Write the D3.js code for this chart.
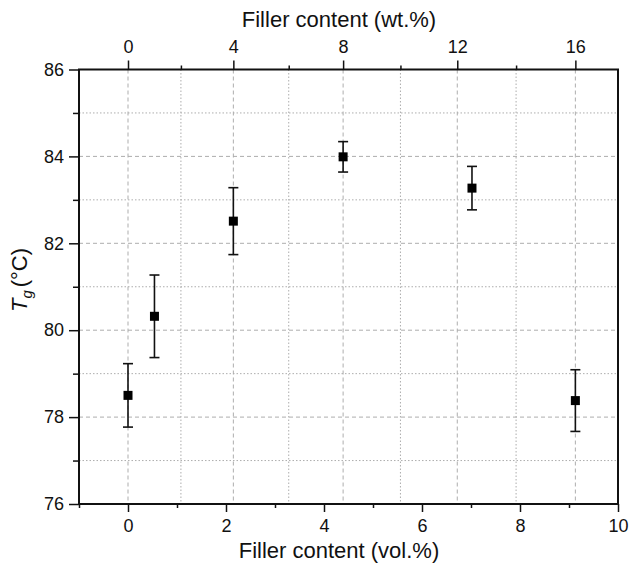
<!DOCTYPE html>
<html>
<head>
<meta charset="utf-8">
<script src="https://cdn.jsdelivr.net/npm/d3@7"></script>
<style>
  html, body { margin: 0; padding: 0; background: #fff; }
  svg { display: block; font-family: "Liberation Sans", Arial, sans-serif; }
  .tick text { font-size: 18px; fill: #111; }
</style>
</head>
<body>
<svg id="chart" width="630" height="565"></svg>
<script>
// Glass transition temperature vs. filler loading
const volContent = [0, 0.54, 2.15, 4.39, 7.02, 9.13];      // vol.%
const tgValues   = [78.50, 80.32, 82.51, 83.99, 83.27, 78.38]; // °C
const tgErrors   = [0.73, 0.95, 0.77, 0.35, 0.50, 0.71];     // ± °C

// Bottom axis (vol.%) ticks
const volMajorTicks = [0, 2, 4, 6, 8, 10];
const volMinorTicks = [-1, 1, 3, 5, 7, 9];

// Top axis (wt.%) ticks and where they sit on the vol.% scale
const wtMajorLabels = [0, 4, 8, 12, 16];
const wtMajorAtVol  = [0, 2.15, 4.39, 6.72, 9.13];
const wtMinorLabels = [2, 6, 10, 14];
const wtMinorAtVol  = [1.08, 3.28, 5.56, 7.92];

// Left axis ticks
const tgMajorTicks = [76, 78, 80, 82, 84, 86];
const tgMinorTicks = [77, 79, 81, 83, 85];

const svg = d3.select("#chart");
const plotL = 79, plotR = 618, plotT = 69.5, plotB = 504;

const x = d3.scaleLinear().domain([-1, 10]).range([plotL, plotR]);
const y = d3.scaleLinear().domain([76, 86]).range([plotB, plotT]);

// Grid: vertical lines follow the wt.% ticks, horizontal lines the Tg ticks
const grid = svg.append("g").attr("stroke", "#adadad").attr("stroke-width", 1).attr("fill", "none");
grid.selectAll(".vmaj").data(wtMajorAtVol).join("line")
  .attr("x1", d => x(d)).attr("x2", d => x(d)).attr("y1", plotT).attr("y2", plotB)
  .attr("stroke-dasharray", "4,3");
grid.selectAll(".vmin").data(wtMinorAtVol).join("line")
  .attr("x1", d => x(d)).attr("x2", d => x(d)).attr("y1", plotT).attr("y2", plotB)
  .attr("stroke-dasharray", "1.5,2");
grid.selectAll(".hmaj").data(tgMajorTicks.slice(1, -1)).join("line")
  .attr("x1", plotL).attr("x2", plotR).attr("y1", d => y(d)).attr("y2", d => y(d))
  .attr("stroke-dasharray", "4,3");
grid.selectAll(".hmin").data(tgMinorTicks).join("line")
  .attr("x1", plotL).attr("x2", plotR).attr("y1", d => y(d)).attr("y2", d => y(d))
  .attr("stroke-dasharray", "1.5,2");

function styleAxis(g) {
  g.select(".domain").remove();
  g.selectAll(".tick line").attr("stroke", "#111").attr("stroke-width", 1.5);
}

// Bottom axis
svg.append("g").attr("transform", `translate(0,${plotB})`)
  .call(d3.axisBottom(x).tickValues(volMajorTicks).tickSize(8).tickPadding(7).tickFormat(d3.format("d")))
  .call(styleAxis);
svg.append("g").attr("transform", `translate(0,${plotB})`)
  .call(d3.axisBottom(x).tickValues(volMinorTicks).tickSize(4).tickFormat(""))
  .call(styleAxis);

// Top axis
svg.append("g").attr("transform", `translate(0,${plotT})`)
  .call(d3.axisTop(x).tickValues(wtMajorAtVol).tickSize(9).tickPadding(8)
    .tickFormat((d, i) => wtMajorLabels[i]))
  .call(styleAxis);
svg.append("g").attr("transform", `translate(0,${plotT})`)
  .call(d3.axisTop(x).tickValues(wtMinorAtVol).tickSize(4).tickFormat(""))
  .call(styleAxis);

// Left axis
svg.append("g").attr("transform", `translate(${plotL},0)`)
  .call(d3.axisLeft(y).tickValues(tgMajorTicks).tickSize(10).tickPadding(5))
  .call(styleAxis);
svg.append("g").attr("transform", `translate(${plotL},0)`)
  .call(d3.axisLeft(y).tickValues(tgMinorTicks).tickSize(6).tickFormat(""))
  .call(styleAxis);

// Frame
svg.append("rect")
  .attr("x", plotL).attr("y", plotT).attr("width", plotR - plotL).attr("height", plotB - plotT)
  .attr("fill", "none").attr("stroke", "#111").attr("stroke-width", 2);

// Error bars
const pts = volContent.map((v, i) => ({ v, t: tgValues[i], e: tgErrors[i] }));
const eb = svg.append("g").attr("stroke", "#111").attr("stroke-width", 1.6);
eb.selectAll(".stem").data(pts).join("line")
  .attr("x1", d => x(d.v)).attr("x2", d => x(d.v))
  .attr("y1", d => y(d.t + d.e)).attr("y2", d => y(d.t - d.e));
eb.selectAll(".capT").data(pts).join("line")
  .attr("x1", d => x(d.v) - 5).attr("x2", d => x(d.v) + 5)
  .attr("y1", d => y(d.t + d.e)).attr("y2", d => y(d.t + d.e));
eb.selectAll(".capB").data(pts).join("line")
  .attr("x1", d => x(d.v) - 5).attr("x2", d => x(d.v) + 5)
  .attr("y1", d => y(d.t - d.e)).attr("y2", d => y(d.t - d.e));

// Square markers
svg.append("g").selectAll("rect").data(pts).join("rect")
  .attr("x", d => x(d.v) - 4.5).attr("y", d => y(d.t) - 4.5)
  .attr("width", 9).attr("height", 9).attr("fill", "#000");

// Axis titles
svg.append("text").attr("x", 339).attr("y", 558).attr("text-anchor", "middle")
  .attr("font-size", 22).attr("fill", "#111").text("Filler content (vol.%)");
svg.append("text").attr("x", 339).attr("y", 27).attr("text-anchor", "middle")
  .attr("font-size", 22).attr("fill", "#111").text("Filler content (wt.%)");

const yl = svg.append("text").attr("transform", "translate(27,280) rotate(-90)")
  .attr("text-anchor", "middle").attr("font-size", 22).attr("fill", "#111");
yl.append("tspan").attr("font-style", "italic").text("T");
yl.append("tspan").attr("font-style", "italic").attr("font-size", 15).attr("dy", 5).text("g");
yl.append("tspan").attr("dy", -5).attr("dx", 3).text("(°C)");
</script>
</body>
</html>
